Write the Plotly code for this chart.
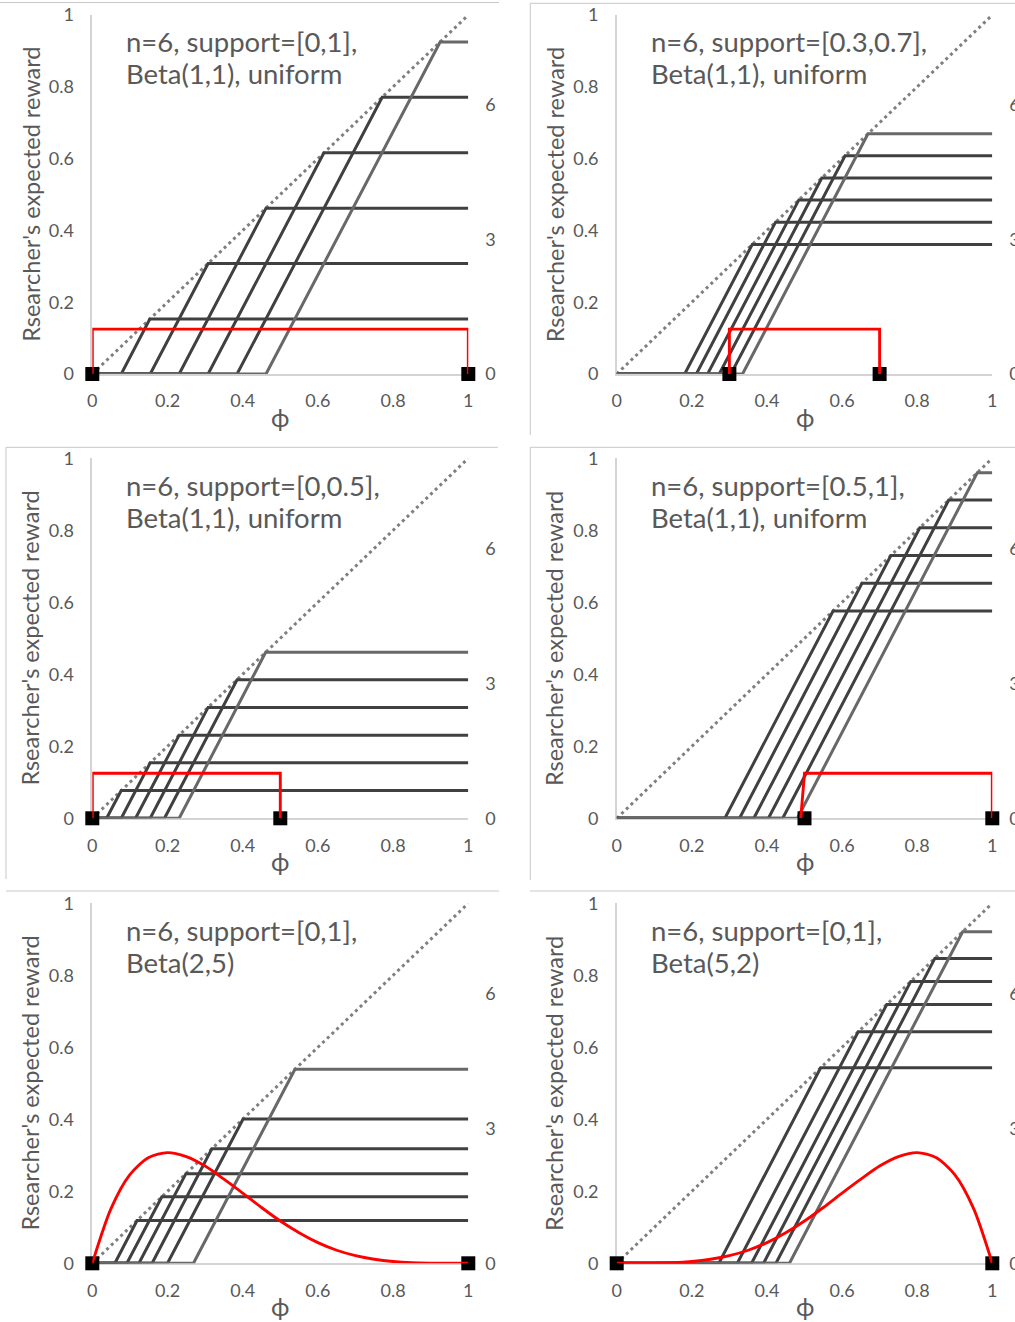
import plotly.graph_objects as go

W, H = 1015, 1322

# ---------------- data ----------------
phi_ticks = [0, 0.2, 0.4, 0.6, 0.8, 1]
phi_labels = ["0", "0.2", "0.4", "0.6", "0.8", "1"]
reward_ticks = [0, 0.2, 0.4, 0.6, 0.8, 1]
reward_labels = ["0", "0.2", "0.4", "0.6", "0.8", "1"]
density_ticks = [0, 3, 6]
density_labels = ["0", "3", "6"]

titles_line1 = ["n=6, support=[0,1],", "n=6, support=[0.3,0.7],", "n=6, support=[0,0.5],",
                "n=6, support=[0.5,1],", "n=6, support=[0,1],", "n=6, support=[0,1],"]
titles_line2 = ["Beta(1,1), uniform", "Beta(1,1), uniform", "Beta(1,1), uniform",
                "Beta(1,1), uniform", "Beta(2,5)", "Beta(5,2)"]

# x where each researcher line leaves zero, and its plateau level (reached on the diagonal)
start_p1 = [0.077, 0.154, 0.231, 0.308, 0.385, 0.462]
level_p1 = [0.153, 0.308, 0.462, 0.616, 0.771, 0.925]
start_p2 = [0.181, 0.212, 0.242, 0.273, 0.304, 0.335]
level_p2 = [0.361, 0.423, 0.485, 0.546, 0.608, 0.669]
start_p3 = [0.038, 0.077, 0.115, 0.154, 0.192, 0.231]
level_p3 = [0.077, 0.154, 0.231, 0.308, 0.385, 0.461]
start_p4 = [0.288, 0.327, 0.365, 0.404, 0.442, 0.481]
level_p4 = [0.576, 0.653, 0.730, 0.807, 0.884, 0.960]
start_p5 = [0.060, 0.092, 0.124, 0.159, 0.200, 0.269]
level_p5 = [0.119, 0.185, 0.249, 0.318, 0.401, 0.539]
start_p6 = [0.272, 0.321, 0.359, 0.391, 0.424, 0.460]
level_p6 = [0.543, 0.643, 0.719, 0.783, 0.847, 0.921]

# prior density (secondary axis)
dens_x_p1 = [0, 0, 1, 1]
dens_y_p1 = [0, 1, 1, 0]
dens_x_p2 = [0.3, 0.3, 0.7, 0.7]
dens_y_p2 = [0, 1, 1, 0]
dens_x_p3 = [0, 0, 0.5, 0.5]
dens_y_p3 = [0, 1, 1, 0]
dens_x_p4 = [0.49, 0.5, 1, 1]
dens_y_p4 = [0, 1, 1, 0]
beta_x = [0, 0.05, 0.1, 0.15, 0.2, 0.25, 0.3, 0.35, 0.4, 0.45, 0.5,
          0.55, 0.6, 0.65, 0.7, 0.75, 0.8, 0.85, 0.9, 0.95, 1]
dens_y_p5 = [0, 1.22, 1.97, 2.35, 2.46, 2.37, 2.16, 1.87, 1.56, 1.24, 0.94,
             0.68, 0.46, 0.29, 0.17, 0.09, 0.04, 0.013, 0.003, 0.0002, 0]
dens_y_p6 = [0, 0.0002, 0.003, 0.013, 0.04, 0.09, 0.17, 0.29, 0.46, 0.68, 0.94,
             1.24, 1.56, 1.87, 2.16, 2.37, 2.46, 2.35, 1.97, 1.22, 0]

support_p1 = [0, 1]
support_p2 = [0.3, 0.7]
support_p3 = [0, 0.5]
support_p4 = [0.5, 1]
support_p5 = [0, 1]
support_p6 = [0, 1]

starts = [start_p1, start_p2, start_p3, start_p4, start_p5, start_p6]
levels = [level_p1, level_p2, level_p3, level_p4, level_p5, level_p6]
dens_x = [dens_x_p1, dens_x_p2, dens_x_p3, dens_x_p4, beta_x, beta_x]
dens_y = [dens_y_p1, dens_y_p2, dens_y_p3, dens_y_p4, dens_y_p5, dens_y_p6]
supports = [support_p1, support_p2, support_p3, support_p4, support_p5, support_p6]
smooth = [False, False, False, False, True, True]

# ---------------- layout geometry ----------------
FONT = "Lato"
TXT = "#595959"
col_px = [(92.3, 468.3), (616.7, 992.3)]
row_px = [(15, 374), (458.3, 818.3), (903.3, 1263.3)]


def px_x(p):
    return p / W


def px_y(p):
    return 1 - p / H


fig = go.Figure()
layout = dict(width=W, height=H, margin=dict(l=0, r=0, t=0, b=0, autoexpand=False),
              paper_bgcolor="white", plot_bgcolor="white", showlegend=False,
              annotations=[], shapes=[])

line_colors = ["#404040"] * 5 + ["#686868"]

for i in range(6):
    r, c = divmod(i, 2)
    k = i + 1
    xa, ya, ya2 = f"x{k}", f"y{k}", f"y{k + 6}"
    x0, x1 = col_px[c]
    y0, y1 = row_px[r]
    xdom = [px_x(x0), px_x(x1)]
    ydom = [px_y(y1), px_y(y0)]

    axfont = dict(family=FONT, size=18, color=TXT)
    layout[f"xaxis{k}"] = dict(domain=xdom, anchor=ya, range=[0, 1], tickvals=phi_ticks,
                               ticktext=phi_labels, showgrid=False, zeroline=False,
                               showline=True, linecolor="#d4d4d4", linewidth=1.5,
                               ticks="", tickfont=axfont, ticklabelstandoff=10,
                               layer="below traces", fixedrange=True, automargin=False)
    layout[f"yaxis{k}"] = dict(domain=ydom, anchor=xa, range=[0, 1], tickvals=reward_ticks,
                               ticktext=reward_labels, showgrid=False, zeroline=False,
                               showline=True, linecolor="#d4d4d4", linewidth=1.5,
                               ticks="", tickfont=axfont, ticklabelstandoff=13,
                               layer="below traces", fixedrange=True, automargin=False)
    layout[f"yaxis{k + 6}"] = dict(overlaying=ya, anchor=xa, side="right", range=[0, 8],
                                   tickvals=density_ticks, ticktext=density_labels,
                                   showgrid=False, zeroline=False, showline=False,
                                   ticks="", tickfont=axfont, ticklabelstandoff=16,
                                   fixedrange=True, automargin=False)

    # diagonal
    fig.add_trace(go.Scatter(x=[0, 1], y=[0, 1], mode="lines", xaxis=xa, yaxis=ya,
                             line=dict(color="#7f7f7f", width=3, dash="3px,3.5px"),
                             hoverinfo="skip"))
    # researcher lines
    for j, (s, b) in enumerate(zip(starts[i], levels[i])):
        fig.add_trace(go.Scatter(x=[0, s, b, 1], y=[0, 0, b, b], mode="lines",
                                 xaxis=xa, yaxis=ya, cliponaxis=False,
                                 line=dict(color=line_colors[j], width=3)))
    # support endpoints
    fig.add_trace(go.Scatter(x=supports[i], y=[0, 0], mode="markers", xaxis=xa, yaxis=ya,
                             cliponaxis=False,
                             marker=dict(symbol="square", size=14, color="black",
                                         line=dict(width=0))))
    # density
    fig.add_trace(go.Scatter(x=dens_x[i], y=dens_y[i], mode="lines", xaxis=xa, yaxis=ya2,
                             cliponaxis=False,
                             line=dict(color="#ff0000", width=2.9,
                                       shape="spline" if smooth[i] else "linear",
                                       smoothing=0.8)))

    # axis titles
    layout["annotations"].append(dict(
        text="Rsearcher's expected reward", textangle=-90, xref="paper", yref="paper",
        x=px_x(x0 - 62), y=px_y((y0 + y1) / 2), xanchor="center", yanchor="middle",
        showarrow=False, font=dict(family=FONT, size=23.5, color=TXT)))
    layout["annotations"].append(dict(
        text="ϕ", xref="paper", yref="paper", x=px_x((x0 + x1) / 2), y=px_y(y1 + 43),
        xanchor="center", yanchor="middle", showarrow=False,
        font=dict(family=FONT, size=25, color=TXT)))
    # panel label
    layout["annotations"].append(dict(
        text=titles_line1[i], xref="paper", yref="paper", x=px_x(x0 + 32), y=px_y(y0 + 27),
        xanchor="left", yanchor="middle", showarrow=False,
        font=dict(family=FONT, size=27.5, color=TXT)))
    layout["annotations"].append(dict(
        text=titles_line2[i], xref="paper", yref="paper", x=px_x(x0 + 32), y=px_y(y0 + 59),
        xanchor="left", yanchor="middle", showarrow=False,
        font=dict(family=FONT, size=27.5, color=TXT)))

# chart-area borders of the pasted Excel charts
border = dict(type="line", xref="paper", yref="paper", line=dict(color="#c8c8c8", width=1))
segs = [
    (0, 2.5, 499, 2.5),
    (530, 3.3, 1015, 3.3), (530.3, 3.3, 530.3, 435),
    (6, 447.3, 498, 447.3), (6, 447.3, 6, 879),
    (530, 447.3, 1015, 447.3), (530.3, 447.3, 530.3, 880),
    (6, 891, 499, 891),
    (530, 891, 1015, 891),
]
for (ax, ay, bx, by) in segs:
    layout["shapes"].append(dict(border, x0=px_x(ax), y0=px_y(ay), x1=px_x(bx), y1=px_y(by)))

fig.update_layout(**layout)
fig.write_html("out.html",
               post_script="document.body.style.margin='0';document.body.style.overflow='hidden';")
